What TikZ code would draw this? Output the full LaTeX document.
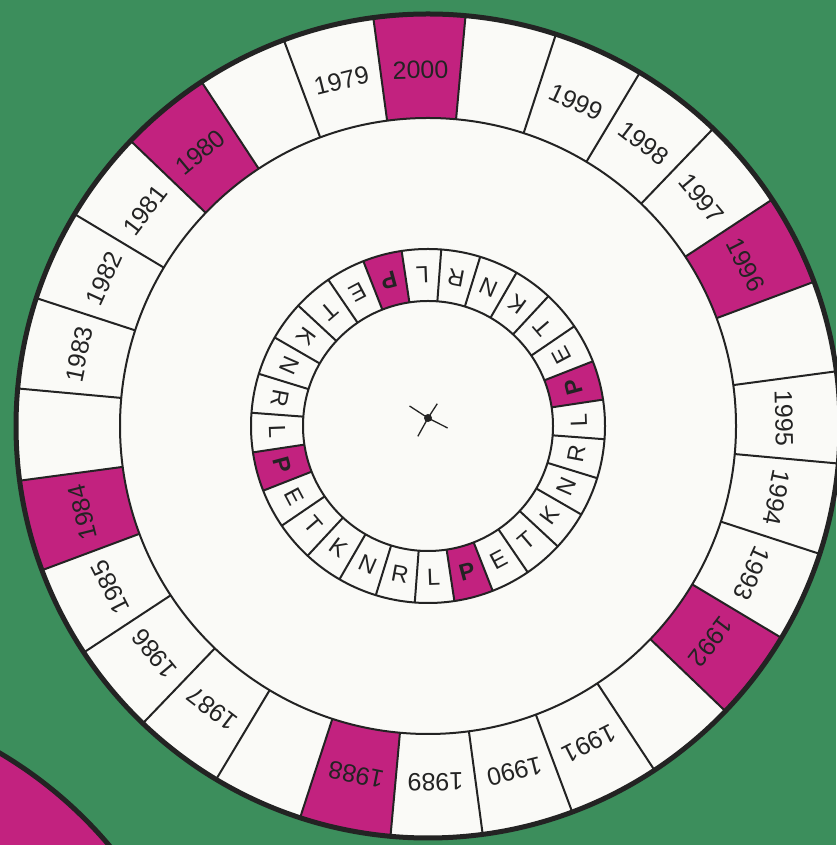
\documentclass[tikz,border=0pt]{standalone}
\usepackage{fontspec}
\setmainfont{Liberation Sans}
\definecolor{bg}{RGB}{60,142,92}
\definecolor{mag}{RGB}{194,34,127}
\definecolor{ink}{RGB}{35,35,35}
\definecolor{paper}{RGB}{250,250,247}
\begin{document}
\begin{tikzpicture}[x=1pt,y=1pt,
  cellline/.style={draw=ink,line width=2pt},
  rimline/.style={draw=ink,line width=5pt},
  yeartext/.style={font=\fontsize{25}{29}\selectfont,text=ink,inner sep=0pt},
  lettertext/.style={font=\fontsize{23.5}{27}\selectfont,text=ink,inner sep=0pt},
  ptext/.style={font=\fontsize{23.5}{27}\selectfont\bfseries,text=ink,inner sep=0pt}]
\useasboundingbox (0,0) rectangle (836,845);
\fill[bg] (0,0) rectangle (836,845);
\begin{scope}
  \clip (0,0) rectangle (836,845);
  \fill[mag] (-217,-276) circle (427);
  \draw[rimline] (-217,-276) circle (427);
\end{scope}
\coordinate (c) at (428,419);
\begin{scope}[shift={(428,419)}]
  \fill[paper] (0,0) circle (412);
  % outer magenta cells
  \foreach \j [evaluate=\j as \aa using 97.63-\j*12.857143,
               evaluate=\j as \ab using 97.63-(\j+1)*12.857143] in {0,5,10,15,20,25}
    \fill[mag] (\aa:308) -- (\aa:412) arc[start angle=\aa,end angle=\ab,radius=412]
      -- (\ab:308) arc[start angle=\ab,end angle=\aa,radius=308] -- cycle;
  % inner magenta cells
  \foreach \k [evaluate=\k as \aa using 8.57+\k*12.857143,
               evaluate=\k as \ab using 8.57+(\k+1)*12.857143] in {0,7,14,21}
    \fill[mag] (\aa:125) -- (\aa:177) arc[start angle=\aa,end angle=\ab,radius=177]
      -- (\ab:125) arc[start angle=\ab,end angle=\aa,radius=125] -- cycle;
  % outer ring lines
  \draw[cellline] (0,0) circle (308);
  \foreach \j [evaluate=\j as \aa using 97.63-\j*12.857143] in {0,...,27}
    \draw[cellline] (\aa:308) -- (\aa:412);
  % inner ring lines
  \draw[cellline] (0,0) circle (125);
  \draw[cellline] (0,0) circle (177);
  \foreach \k [evaluate=\k as \aa using 8.57+\k*12.857143] in {0,...,27}
    \draw[cellline] (\aa:125) -- (\aa:177);
  % years
  \foreach \j/\t in {0/2000,2/1999,3/1998,4/1997,5/1996,7/1995,8/1994,9/1993,10/1992,
                     12/1991,13/1990,14/1989,15/1988,17/1987,18/1986,19/1985,20/1984,
                     22/1983,23/1982,24/1981,25/1980,27/1979}
  {
    \pgfmathsetmacro{\aa}{91.2-\j*12.857143}
    \node[yeartext,rotate=\aa-90] (y\t) at (\aa:356) {\t};
  }
  % letters
  \foreach \k/\l in {1/E,2/T,3/K,4/N,5/R,6/L,8/E,9/T,10/K,11/N,12/R,13/L,
                     15/E,16/T,17/K,18/N,19/R,20/L,22/E,23/T,24/K,25/N,26/R,27/L}
  {
    \pgfmathsetmacro{\aa}{15+\k*12.857143}
    \node[lettertext,rotate=\aa+90] (l\k) at (\aa:151) {\l};
  }
  \foreach \k in {0,7,14,21}
  {
    \pgfmathsetmacro{\aa}{15+\k*12.857143}
    \node[ptext,rotate=\aa+90] (l\k) at (\aa:151) {P};
  }
  % rim
  \draw[rimline] (0,0) circle (412);
  % centre mark
  \node[circle,fill=ink,inner sep=0pt,minimum size=8pt] (ctr) at (0,8) {};
  \foreach \b/\r in {147/22,57/17,-27/22,-119/21}
    \draw[ink,line width=1.3pt] (ctr.center) -- ++(\b:\r);
\end{scope}
\end{tikzpicture}
\end{document}
